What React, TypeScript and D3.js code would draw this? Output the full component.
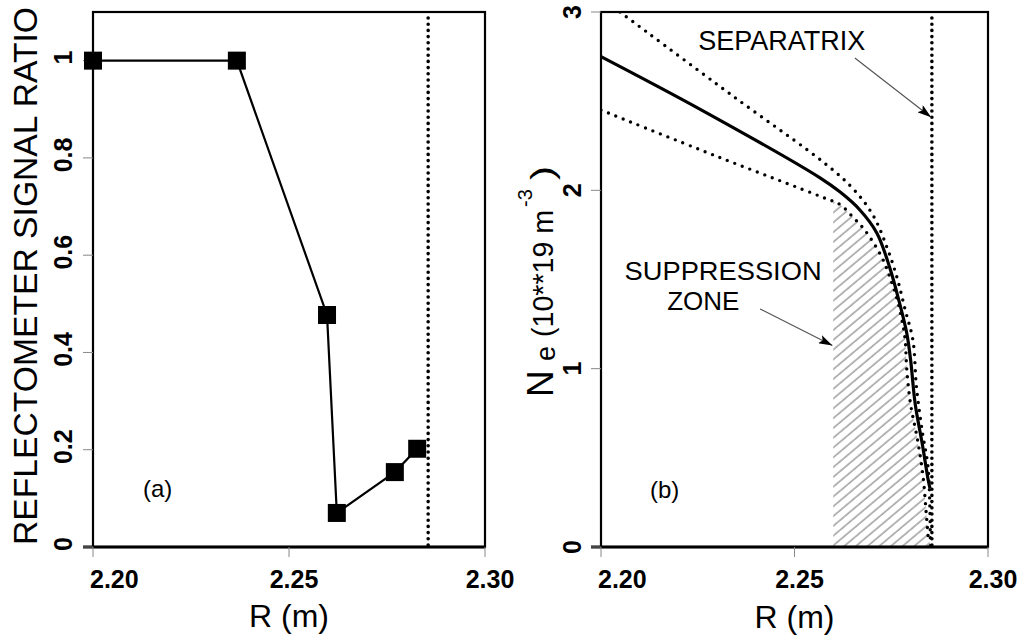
import React, { useEffect, useRef } from "react";
import * as d3 from "d3";

// panel (a): reflectometer signal ratio vs major radius
const ratioR = [2.2, 2.2367, 2.2597, 2.2622, 2.277, 2.2827];
const ratioValues = [1.0, 1.0, 0.477, 0.07, 0.154, 0.202];
const ratioTicks = [0, 0.2, 0.4, 0.6, 0.8, 1];
const ratioTickLabels = ["0", "0.2", "0.4", "0.6", "0.8", "1"];

// shared x axis
const rTicks = [2.2, 2.25, 2.3];
const rTickLabels = ["2.20", "2.25", "2.30"];
const separatrixR = 2.2855;

// panel (b): density profile with upper / lower bounds
const profileR = [2.2, 2.226, 2.2566, 2.2618, 2.2669, 2.2713, 2.2747, 2.277, 2.279, 2.28, 2.2812, 2.283, 2.2846, 2.285];
const profileNe = [2.75, 2.45, 2.07, 1.99, 1.89, 1.76, 1.56, 1.38, 1.2, 1.05, 0.8, 0.58, 0.37, 0.33];
const upperR = [2.2049, 2.234, 2.2579, 2.2651, 2.2703, 2.2739, 2.2765, 2.2786, 2.2806, 2.2815, 2.283, 2.2845, 2.285, 2.2851];
const upperNe = [3.0, 2.53, 2.15, 2.01, 1.86, 1.68, 1.51, 1.33, 1.16, 0.9, 0.65, 0.45, 0.2, 0.0];
const lowerR = [2.2, 2.23, 2.2574, 2.2618, 2.2651, 2.2677, 2.2703, 2.2729, 2.2747, 2.2765, 2.2778, 2.2786, 2.279, 2.28, 2.2818, 2.2832, 2.284, 2.2846];
const lowerNe = [2.45, 2.19, 1.96, 1.92, 1.85, 1.79, 1.71, 1.61, 1.51, 1.39, 1.27, 1.16, 1.0, 0.8, 0.6, 0.4, 0.2, 0.04];
const neTicks = [0, 1, 2, 3];
const suppressionStartR = 2.26;

// annotations (data coordinates of panel b)
const sepLabel = { text: "SEPARATRIX", r: 2.2251, ne: 2.787 };
const sepArrow = { r0: 2.2656, ne0: 2.742, r1: 2.2853, ne1: 2.41 };
const zoneLabel1 = { text: "SUPPRESSION", r: 2.2061, ne: 1.5 };
const zoneLabel2 = { text: "ZONE", r: 2.2171, ne: 1.33 };
const zoneArrow = { r0: 2.2411, ne0: 1.335, r1: 2.2598, ne1: 1.13 };

const FONT = "'Liberation Sans', Arial, Helvetica, sans-serif";

function App() {
  const ref = useRef(null);

  useEffect(() => {
    const root = d3.select(ref.current);
    root.selectAll("*").remove();

    const svg = root
      .append("svg")
      .attr("width", 1030)
      .attr("height", 639)
      .style("position", "absolute")
      .style("left", 0)
      .style("top", 0)
      .style("background", "#fff")
      .attr("font-family", FONT);

    const defs = svg.append("defs");
    defs
      .append("marker")
      .attr("id", "head")
      .attr("viewBox", "0 0 14 9")
      .attr("refX", 14)
      .attr("refY", 4.5)
      .attr("markerWidth", 14)
      .attr("markerHeight", 9)
      .attr("markerUnits", "userSpaceOnUse")
      .attr("orient", "auto")
      .append("path")
      .attr("d", "M0,0 L14,4.5 L0,9 L3,4.5 Z")
      .attr("fill", "#000");

    const hatch = defs
      .append("pattern")
      .attr("id", "hatch")
      .attr("patternUnits", "userSpaceOnUse")
      .attr("width", 7.5)
      .attr("height", 20)
      .attr("patternTransform", "rotate(50)");
    hatch
      .append("line")
      .attr("x1", 1)
      .attr("y1", 0)
      .attr("x2", 1)
      .attr("y2", 20)
      .attr("stroke", "#6e6e6e")
      .attr("stroke-width", 1);

    // ---------- panel (a) ----------
    const xa = d3.scaleLinear().domain([2.2, 2.3]).range([93, 485]);
    const ya = d3.scaleLinear().domain([0, 1.1]).range([547, 12]);

    const ga = svg.append("g");
    // frame
    ga.append("rect")
      .attr("x", xa(2.2))
      .attr("y", ya(1.1))
      .attr("width", xa(2.3) - xa(2.2))
      .attr("height", ya(0) - ya(1.1))
      .attr("fill", "none")
      .attr("stroke", "#000")
      .attr("stroke-width", 2.2);
    ga.append("line")
      .attr("x1", xa(2.2) - 10)
      .attr("x2", xa(2.3))
      .attr("y1", ya(0))
      .attr("y2", ya(0))
      .attr("stroke", "#000")
      .attr("stroke-width", 3);

    // y ticks
    ratioTicks.forEach((t, i) => {
      ga.append("line")
        .attr("x1", xa(2.2) - 10)
        .attr("x2", xa(2.2))
        .attr("y1", ya(t))
        .attr("y2", ya(t))
        .attr("stroke", "#888")
        .attr("stroke-width", 1);
      ga.append("text")
        .attr("transform", `translate(72,${ya(t) - 3}) rotate(-90)`)
        .attr("text-anchor", "middle")
        .attr("font-size", 25)
        .attr("font-weight", "bold")
        .text(ratioTickLabels[i]);
    });

    const drawXTicks = (g, x, yBase) => {
      rTicks.forEach((t, i) => {
        g.append("line")
          .attr("x1", x(t))
          .attr("x2", x(t))
          .attr("y1", yBase)
          .attr("y2", yBase + 10)
          .attr("stroke", "#888")
          .attr("stroke-width", 1);
        g.append("text")
          .attr("x", i === 0 ? x(t) - 3 : x(t) + 5)
          .attr("y", 588)
          .attr("text-anchor", i === 0 ? "start" : "middle")
          .attr("font-size", 25)
          .attr("font-weight", "bold")
          .text(rTickLabels[i]);
      });
    };
    drawXTicks(ga, xa, ya(0));

    // data line + markers
    const pts = ratioR.map((r, i) => [r, ratioValues[i]]);
    ga.append("path")
      .datum(pts)
      .attr("fill", "none")
      .attr("stroke", "#000")
      .attr("stroke-width", 2.2)
      .attr("d", d3.line().x((d) => xa(d[0])).y((d) => ya(d[1])));
    ga.selectAll("rect.m")
      .data(pts)
      .enter()
      .append("rect")
      .attr("class", "m")
      .attr("x", (d) => xa(d[0]) - 9)
      .attr("y", (d) => ya(d[1]) - 9)
      .attr("width", 18)
      .attr("height", 18)
      .attr("fill", "#000");

    // separatrix
    ga.append("line")
      .attr("x1", xa(separatrixR))
      .attr("x2", xa(separatrixR))
      .attr("y1", ya(1.1) + 6)
      .attr("y2", ya(0))
      .attr("stroke", "#000")
      .attr("stroke-width", 3.6)
      .attr("stroke-linecap", "round")
      .attr("stroke-dasharray", "0 6.2");

    ga.append("text")
      .attr("x", 143)
      .attr("y", 497)
      .attr("font-size", 24)
      .text("(a)");

    ga.append("text")
      .attr("transform", "translate(37,545) rotate(-90)")
      .attr("font-size", 33.5)
      .attr("textLength", 538)
      .attr("lengthAdjust", "spacingAndGlyphs")
      .text("REFLECTOMETER SIGNAL RATIO");

    ga.append("text")
      .attr("x", xa(2.25))
      .attr("y", 627)
      .attr("text-anchor", "middle")
      .attr("font-size", 32)
      .text("R (m)");

    // ---------- panel (b) ----------
    const xb = d3.scaleLinear().domain([2.2, 2.3]).range([601, 988]);
    const yb = d3.scaleLinear().domain([0, 3]).range([547, 12]);
    const gb = svg.append("g");

    defs
      .append("clipPath")
      .attr("id", "plotb")
      .append("rect")
      .attr("x", xb(2.2))
      .attr("y", yb(3))
      .attr("width", xb(2.3) - xb(2.2))
      .attr("height", yb(0) - yb(3));
    defs
      .append("clipPath")
      .attr("id", "zone")
      .append("rect")
      .attr("x", xb(suppressionStartR))
      .attr("y", yb(3))
      .attr("width", xb(2.3) - xb(suppressionStartR))
      .attr("height", yb(0) - yb(3));

    // hatched suppression zone under the lower bound
    const k = lowerR.findIndex((r) => r >= 2.257);
    const zonePts = [[lowerR[k], 0]]
      .concat(lowerR.slice(k).map((r, i) => [r, lowerNe[k + i]]))
      .concat([[lowerR[lowerR.length - 1] + 0.0008, 0]]);
    gb.append("path")
      .datum(zonePts)
      .attr("clip-path", "url(#zone)")
      .attr("fill", "url(#hatch)")
      .attr("stroke", "none")
      .attr("d", d3.line().x((d) => xb(d[0])).y((d) => yb(d[1])));

    const curve = d3
      .line()
      .x((d) => xb(d[0]))
      .y((d) => yb(d[1]))
      .curve(d3.curveCatmullRom);

    const zipPts = (rs, ns) => rs.map((r, i) => [r, ns[i]]);
    [zipPts(upperR, upperNe), zipPts(lowerR, lowerNe)].forEach((p) => {
      gb.append("path")
        .datum(p)
        .attr("clip-path", "url(#plotb)")
        .attr("fill", "none")
        .attr("stroke", "#000")
        .attr("stroke-width", 3.4)
        .attr("stroke-linecap", "round")
        .attr("stroke-dasharray", "0 8")
        .attr("d", curve);
    });
    gb.append("path")
      .datum(zipPts(profileR, profileNe))
      .attr("fill", "none")
      .attr("stroke", "#000")
      .attr("stroke-width", 3.2)
      .attr("d", curve);

    // separatrix
    gb.append("line")
      .attr("x1", xb(separatrixR))
      .attr("x2", xb(separatrixR))
      .attr("y1", yb(3) + 6)
      .attr("y2", yb(0))
      .attr("stroke", "#000")
      .attr("stroke-width", 3.6)
      .attr("stroke-linecap", "round")
      .attr("stroke-dasharray", "0 6.2");

    // frame
    gb.append("rect")
      .attr("x", xb(2.2))
      .attr("y", yb(3))
      .attr("width", xb(2.3) - xb(2.2))
      .attr("height", yb(0) - yb(3))
      .attr("fill", "none")
      .attr("stroke", "#000")
      .attr("stroke-width", 2.2);
    gb.append("line")
      .attr("x1", xb(2.2) - 10)
      .attr("x2", xb(2.3))
      .attr("y1", yb(0))
      .attr("y2", yb(0))
      .attr("stroke", "#000")
      .attr("stroke-width", 3);

    neTicks.forEach((t) => {
      gb.append("line")
        .attr("x1", xb(2.2) - 10)
        .attr("x2", xb(2.2))
        .attr("y1", yb(t))
        .attr("y2", yb(t))
        .attr("stroke", "#888")
        .attr("stroke-width", 1);
      gb.append("text")
        .attr("transform", `translate(581,${yb(t)}) rotate(-90)`)
        .attr("text-anchor", "middle")
        .attr("font-size", 25)
        .attr("font-weight", "bold")
        .text(String(t));
    });
    drawXTicks(gb, xb, yb(0));

    // annotations
    gb.append("text")
      .attr("x", xb(sepLabel.r))
      .attr("y", yb(sepLabel.ne))
      .attr("font-size", 27)
      .text(sepLabel.text);
    gb.append("text")
      .attr("x", xb(zoneLabel1.r))
      .attr("y", yb(zoneLabel1.ne))
      .attr("font-size", 26)
      .attr("textLength", 197)
      .attr("lengthAdjust", "spacingAndGlyphs")
      .text(zoneLabel1.text);
    gb.append("text")
      .attr("x", xb(zoneLabel2.r))
      .attr("y", yb(zoneLabel2.ne))
      .attr("font-size", 26)
      .text(zoneLabel2.text);
    [sepArrow, zoneArrow].forEach((a) => {
      gb.append("line")
        .attr("x1", xb(a.r0))
        .attr("y1", yb(a.ne0))
        .attr("x2", xb(a.r1))
        .attr("y2", yb(a.ne1))
        .attr("stroke", "#555")
        .attr("stroke-width", 1.2)
        .attr("marker-end", "url(#head)");
    });

    gb.append("text")
      .attr("x", 650)
      .attr("y", 498)
      .attr("font-size", 24)
      .text("(b)");

    gb.append("text")
      .attr("x", xb(2.25))
      .attr("y", 628)
      .attr("text-anchor", "middle")
      .attr("font-size", 32)
      .text("R (m)");

    // y label: N_e (10**19 m^-3), pieces placed along the rotated axis
    const yPiece = (y, size, txt, dx = 0) =>
      gb
        .append("text")
        .attr("transform", `translate(${553 + dx},${y}) rotate(-90)`)
        .attr("font-size", size)
        .text(txt);
    yPiece(397, 37, "N");
    yPiece(361, 27, "e", 2);
    yPiece(337, 29, "(10**19 m").attr("textLength", 127).attr("lengthAdjust", "spacingAndGlyphs");
    yPiece(207, 20, "-3", -21);
    yPiece(180, 31, ")").attr("textLength", 14).attr("lengthAdjust", "spacingAndGlyphs");
  }, []);

  return <div ref={ref}></div>;
}

export default App;
